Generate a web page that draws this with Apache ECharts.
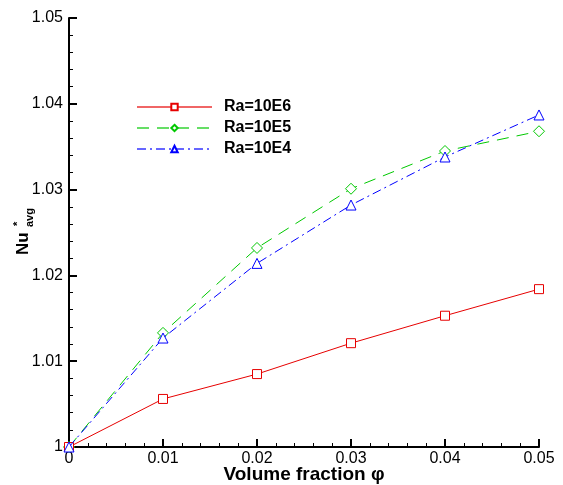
<!DOCTYPE html>
<html><head><meta charset="utf-8">
<script src="https://cdn.jsdelivr.net/npm/echarts@6/dist/echarts.min.js"></script>
<style>html,body{margin:0;padding:0;background:#fff;}#c{width:563px;height:485px;}</style>
</head><body><div id="c"></div>
<script>
const xValues = [0, 0.01, 0.02, 0.03, 0.04, 0.05];
const ra10E6 = [1.0, 1.0056, 1.0085, 1.0121, 1.0153, 1.0184];
const ra10E5 = [1.0, 1.0133, 1.0232, 1.0301, 1.0345, 1.0368];
const ra10E4 = [1.0, 1.0127, 1.0214, 1.0282, 1.0338, 1.0387];
const seriesNames = ['Ra=10E6', 'Ra=10E5', 'Ra=10E4'];
const xTitle = 'Volume fraction φ';

const FONT = '"Liberation Sans", Arial, sans-serif';
const pairs = arr => xValues.map((x, i) => [x, arr[i]]);

const chart = echarts.init(document.getElementById('c'), null, {renderer: 'canvas'});
const axisCommon = {
  axisLine: {show: true, onZero: false, lineStyle: {color: '#000', width: 2}},
  axisTick: {show: true, inside: true, length: 8, lineStyle: {color: '#000', width: 2}},
  minorTick: {show: true, splitNumber: 5, length: 4, lineStyle: {color: '#000', width: 1}},
  splitLine: {show: false},
  axisLabel: {color: '#000', fontFamily: FONT, fontSize: 16}
};
chart.setOption({
  animation: false,
  backgroundColor: '#fff',
  grid: {left: 69, right: 24, top: 18, bottom: 38, containLabel: false, outerBoundsMode: 'none'},
  xAxis: Object.assign({}, axisCommon, {
    type: 'value', min: 0, max: 0.05, interval: 0.01,
    axisLabel: Object.assign({}, axisCommon.axisLabel, {margin: 4,
      formatter: v => v === 0 ? '0' : v.toFixed(2)}),
    name: xTitle, nameLocation: 'middle', nameGap: 18, nameMoveOverlap: false,
    nameTextStyle: {color: '#000', fontFamily: FONT, fontSize: 19, fontWeight: 'bold', verticalAlign: 'top'}
  }),
  yAxis: Object.assign({}, axisCommon, {
    type: 'value', min: 1, max: 1.05, interval: 0.01,
    axisLabel: Object.assign({}, axisCommon.axisLabel, {margin: 6,
      formatter: v => Math.abs(v - 1) < 1e-9 ? '1' : v.toFixed(2)})
  }),
  legend: {
    show: true, orient: 'vertical', left: 131, top: 94,
    itemWidth: 75, itemHeight: 8, itemGap: 5,
    data: seriesNames,
    lineStyle: {opacity: 0.6},
    textStyle: {color: '#000', fontFamily: FONT, fontSize: 16, fontWeight: 'bold', lineHeight: 16, padding: [0, 0, 0, 7]}
  },
  graphic: [{
    type: 'group', x: 23, y: 255, rotation: Math.PI / 2,
    children: [
      {type: 'text', x: 0, y: 0, style: {text: 'Nu', font: 'bold 17px ' + FONT, fill: '#000', align: 'left', verticalAlign: 'middle'}},
      {type: 'text', x: 28, y: 6.5, style: {text: 'avg', font: 'bold 11px ' + FONT, fill: '#000', align: 'left', verticalAlign: 'middle'}},
      {type: 'text', x: 29, y: -5, style: {text: '*', font: 'bold 11px ' + FONT, fill: '#000', align: 'left', verticalAlign: 'middle'}}
    ]
  }],
  series: [
    {name: seriesNames[0], type: 'line', data: pairs(ra10E6), symbol: 'rect', symbolSize: 9,
      itemStyle: {color: '#fff', borderColor: '#e60000', borderWidth: 1},
      lineStyle: {color: '#e60000', width: 1, type: 'solid'}, z: 3},
    {name: seriesNames[1], type: 'line', data: pairs(ra10E5), symbol: 'diamond', symbolSize: 11,
      itemStyle: {color: '#fff', borderColor: '#00c800', borderWidth: 1},
      lineStyle: {color: '#00c800', width: 1, type: [12, 8]}, z: 2},
    {name: seriesNames[2], type: 'line', data: pairs(ra10E4), symbol: 'triangle', symbolSize: 10,
      itemStyle: {color: '#fff', borderColor: '#0000ff', borderWidth: 1},
      lineStyle: {color: '#0000ff', width: 1, type: [9, 4, 2, 4]}, z: 4}
  ]
});
</script></body></html>
